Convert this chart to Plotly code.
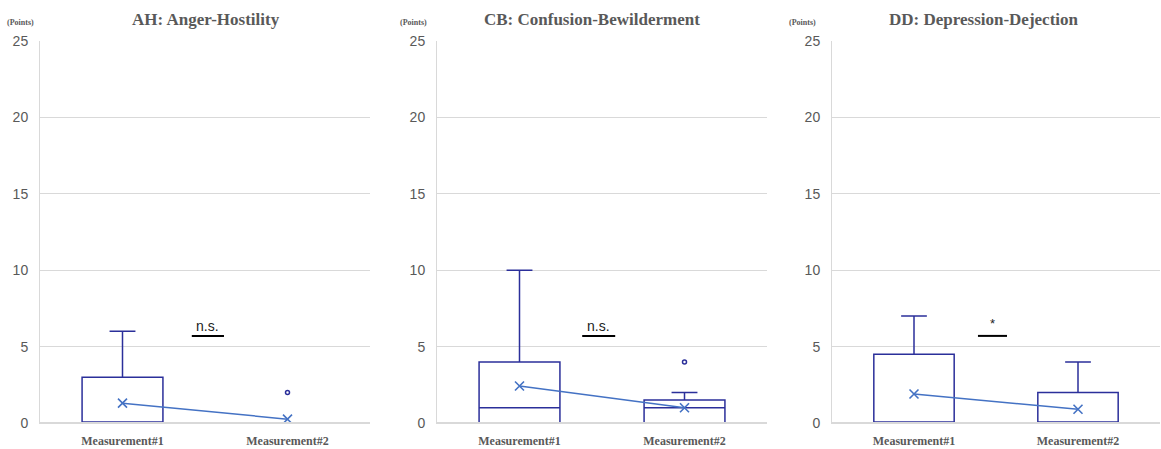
import plotly.graph_objects as go

W, H = 1161, 449

categories = ["Measurement#1", "Measurement#2"]
panel_titles = ["AH: Anger-Hostility", "CB: Confusion-Bewilderment", "DD: Depression-Dejection"]
significance = ["n.s.", "n.s.", "*"]

q1_vals = [[0, 0], [0, 0], [0, 0]]
median_vals = [[0, 0], [1, 1], [0, 0]]
q3_vals = [[3, 0], [4, 1.5], [4.5, 2]]
lower_vals = [[0, 0], [0, 0], [0, 0]]
upper_vals = [[6, 0], [10, 2], [7, 4]]
mean_vals = [[1.3, 0.25], [2.42, 1.0], [1.9, 0.9]]
outlier_cat = [["Measurement#2"], ["Measurement#2"], []]
outlier_vals = [[2], [4], []]

y_ticks = [0, 5, 10, 15, 20, 25]

# layout (pixel positions)
panel_px = [(40, 370), (437, 767), (832, 1160)]
title_px = [206, 592, 984]
points_px = [20, 413, 802]
sig_line = [(0.42, 0.615), (0.38, 0.58), (0.39, 0.567)]
y0_px, y25_px = 423, 41

BOX_COLOR = "#2B2F9A"
MEAN_COLOR = "#4472C4"
TXT = "#595959"

fig = go.Figure()
for i in range(3):
    xa = "x" if i == 0 else f"x{i+1}"
    ya = "y" if i == 0 else f"y{i+1}"
    fig.add_trace(go.Box(
        x=categories, q1=q1_vals[i], median=median_vals[i], q3=q3_vals[i],
        lowerfence=lower_vals[i], upperfence=upper_vals[i],
        width=0.49, whiskerwidth=0.32, boxpoints=False,
        line=dict(color=BOX_COLOR, width=1.5), fillcolor="rgba(255,255,255,0)",
        xaxis=xa, yaxis=ya, showlegend=False, hoverinfo="skip"))
    fig.add_trace(go.Scatter(
        x=categories, y=mean_vals[i], mode="lines+markers",
        line=dict(color=MEAN_COLOR, width=1.5),
        marker=dict(symbol="x-thin", size=9, color=MEAN_COLOR,
                    line=dict(color=MEAN_COLOR, width=1.6)),
        xaxis=xa, yaxis=ya, showlegend=False))
    fig.add_trace(go.Scatter(
        x=outlier_cat[i], y=outlier_vals[i], mode="markers",
        marker=dict(symbol="circle-open", size=4, color=BOX_COLOR,
                    line=dict(color=BOX_COLOR, width=1.5)),
        xaxis=xa, yaxis=ya, showlegend=False))

ydom = [(H - y0_px) / H, (H - y25_px) / H]
layout = dict(width=W, height=H, margin=dict(l=0, r=0, t=0, b=0, autoexpand=False),
              plot_bgcolor="white", paper_bgcolor="white", showlegend=False)
for i in range(3):
    sx = "" if i == 0 else str(i + 1)
    layout["xaxis" + sx] = dict(
        domain=[panel_px[i][0] / W, panel_px[i][1] / W], type="category",
        categoryorder="array", categoryarray=categories, range=[-0.5, 1.5],
        anchor="y" + sx, showgrid=False, zeroline=False, showline=True,
        linecolor="#D9D9D9", linewidth=1, ticks="", automargin=False,
        ticklabelstandoff=7,
        tickfont=dict(family="Liberation Serif", size=12, color=TXT, weight="bold"))
    layout["yaxis" + sx] = dict(
        domain=ydom, range=[0, 25], anchor="x" + sx, tickvals=y_ticks,
        showgrid=True, gridcolor="#D9D9D9", gridwidth=1, zeroline=False,
        showline=True, linecolor="#D9D9D9", linewidth=1, ticks="", automargin=False,
        ticklabelstandoff=8,
        tickfont=dict(family="Liberation Sans", size=14, color=TXT))
fig.update_layout(**layout)

ann = []
shapes = []
for i in range(3):
    sx = "" if i == 0 else str(i + 1)
    ann.append(dict(text="<b>" + panel_titles[i] + "</b>", x=title_px[i] / W, y=1 - 20 / H,
                    xref="paper", yref="paper", showarrow=False, xanchor="center", yanchor="middle",
                    font=dict(family="Liberation Serif", size=17, color=TXT)))
    ann.append(dict(text="<b>(Points)</b>", x=points_px[i] / W, y=1 - 22 / H,
                    xref="paper", yref="paper", showarrow=False, xanchor="center", yanchor="middle",
                    font=dict(family="Liberation Serif", size=8, color=TXT)))
    sig_y = 6.35 if significance[i] != "*" else 6.5
    ann.append(dict(text=significance[i], x=(sig_line[i][0] + sig_line[i][1]) / 2, y=sig_y,
                    xref="x" + sx, yref="y" + sx, showarrow=False, yanchor="middle",
                    font=dict(family="Liberation Sans", size=14 if significance[i] != "*" else 13,
                              color="#222222")))
    shapes.append(dict(type="line", xref="x" + sx, yref="y" + sx,
                       x0=sig_line[i][0], x1=sig_line[i][1], y0=5.7, y1=5.7,
                       line=dict(color="black", width=2)))
    # baseline cover (axis line drawn over the box bottoms at 0)
    shapes.append(dict(type="line", xref="x" + sx, yref="y" + sx, layer="above",
                       x0=-0.5, x1=1.5, y0=0, y1=0,
                       line=dict(color="#D9D9D9", width=2)))
fig.update_layout(annotations=ann, shapes=shapes)

fig.write_html("out.html")
